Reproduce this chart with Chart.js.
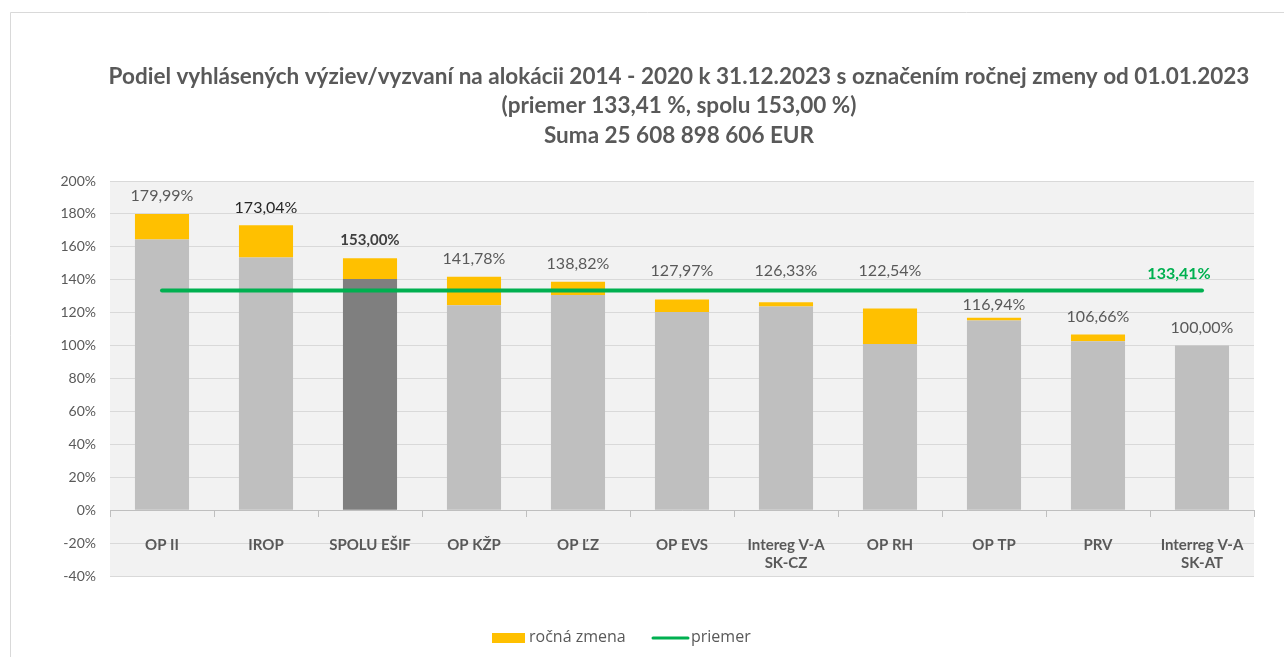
<!DOCTYPE html>
<html>
<head>
<meta charset="utf-8">
<script src="https://cdn.jsdelivr.net/npm/chart.js@4.4.1/dist/chart.umd.min.js"></script>
<style>
  html, body { margin: 0; padding: 0; background: #ffffff; }
  #wrap { width: 1284px; height: 657px; position: relative; }
</style>
</head>
<body>
<div id="wrap"><canvas id="c" width="1284" height="657"></canvas></div>
<script>
// ---- data ----
const categories = ['OP II', 'IROP', 'SPOLU EŠIF', 'OP KŽP', 'OP ĽZ', 'OP EVS', ['Intereg V-A', 'SK-CZ'], 'OP RH', 'OP TP', 'PRV', ['Interreg V-A', 'SK-AT']];
const startValues = [164.5, 153.5, 140.5, 124.5, 130.7, 120.4, 123.8, 101.0, 115.2, 102.6, 100.0];
const totalValues = [179.99, 173.04, 153.00, 141.78, 138.82, 127.97, 126.33, 122.54, 116.94, 106.66, 100.00];
const averageValue = 133.41;
const yTicks = { min: -40, max: 200, step: 20 };
const titleLines = [
  'Podiel vyhlásených výziev/vyzvaní na alokácii 2014 - 2020 k 31.12.2023 s označením ročnej zmeny od 01.01.2023',
  '(priemer 133,41 %, spolu 153,00 %)',
  'Suma 25 608 898 606 EUR'
];
const legendNames = ['ročná zmena', 'priemer'];

// derived
const changeValues = totalValues.map((t, i) => +(t - startValues[i]).toFixed(2));
const averageSeries = categories.map(() => averageValue);
const totalIndex = categories.indexOf('SPOLU EŠIF');

const FONT = 'Lato, "Open Sans", sans-serif';
const fmt = v => v.toFixed(2).replace('.', ',') + '%';

const frame = {
  id: 'frame',
  beforeDraw(chart) {
    const { ctx, chartArea: a } = chart;
    ctx.save();
    ctx.fillStyle = '#ffffff';
    ctx.fillRect(0, 0, chart.width, chart.height);
    ctx.strokeStyle = '#d9d9d9';
    ctx.lineWidth = 1;
    ctx.beginPath();
    ctx.moveTo(10.5, chart.height + 2);
    ctx.lineTo(10.5, 12.5);
    ctx.lineTo(chart.width + 2, 12.5);
    ctx.stroke();
    ctx.fillStyle = '#f2f2f2';
    ctx.fillRect(a.left, a.top, a.right - a.left, a.bottom - a.top);
    // title
    ctx.fillStyle = '#595959';
    ctx.textAlign = 'center';
    ctx.textBaseline = 'middle';
    ctx.font = 'bold 22.5px ' + FONT;
    const cx = (a.left + a.right) / 2 - 3;
    ctx.fillText(titleLines[0], cx, 77);
    ctx.fillText(titleLines[1], cx, 106);
    ctx.fillText(titleLines[2], cx, 136);
    ctx.restore();
  },
  afterDraw(chart) {
    const { ctx } = chart;
    ctx.save();
    // legend
    const y = 638;
    ctx.fillStyle = '#ffc000';
    ctx.fillRect(492, y - 5, 33, 10);
    ctx.font = '16px "Open Sans", ' + FONT;
    ctx.fillStyle = '#595959';
    ctx.textAlign = 'left';
    ctx.textBaseline = 'middle';
    ctx.fillText(legendNames[0], 529, y - 1);
    ctx.strokeStyle = '#00b050';
    ctx.lineWidth = 3;
    ctx.lineCap = 'round';
    ctx.beginPath();
    ctx.moveTo(653, y);
    ctx.lineTo(688, y);
    ctx.stroke();
    ctx.fillText(legendNames[1], 691, y - 1);
    ctx.restore();
  }
};

const valueLabels = {
  id: 'valueLabels',
  afterDatasetsDraw(chart) {
    const { ctx, scales } = chart;
    const meta = chart.getDatasetMeta(1);
    const lineY = scales.y.getPixelForValue(averageValue);
    ctx.save();
    ctx.textAlign = 'center';
    ctx.textBaseline = 'middle';
    meta.data.forEach((bar, i) => {
      const top = bar.y;
      let ly = top - 18;
      if (Math.abs(ly - lineY) < 14) {
        if (top - 10 >= lineY + 14) ly = lineY + 14;
        else ly = lineY - 20;
      }
      if (i === totalIndex) {
        ctx.font = 'bold 15px ' + FONT;
        ctx.fillStyle = '#404040';
      } else {
        ctx.font = '16px ' + FONT;
        ctx.fillStyle = i === 1 ? '#262626' : '#595959';
      }
      ctx.fillText(fmt(totalValues[i]), bar.x, ly);
    });
    // average label
    const lm = chart.getDatasetMeta(2);
    const last = lm.data[lm.data.length - 1];
    ctx.font = 'bold 16px ' + FONT;
    ctx.fillStyle = '#00b050';
    ctx.fillText(fmt(averageValue), last.x - 23, lineY - 17);
    ctx.restore();
  }
};

new Chart(document.getElementById('c'), {
  type: 'bar',
  data: {
    labels: categories,
    datasets: [
      {
        label: 'stav',
        data: startValues,
        backgroundColor: categories.map((c, i) => i === totalIndex ? '#7f7f7f' : '#bfbfbf'),
        stack: 's',
        order: 1,
        categoryPercentage: 1,
        barPercentage: 0.52
      },
      {
        label: legendNames[0],
        data: changeValues,
        backgroundColor: '#ffc000',
        stack: 's',
        order: 2,
        categoryPercentage: 1,
        barPercentage: 0.52
      },
      {
        type: 'line',
        label: legendNames[1],
        data: averageSeries,
        borderColor: '#00b050',
        borderWidth: 4,
        borderCapStyle: 'round',
        pointRadius: 0,
        fill: false,
        order: 0
      }
    ]
  },
  options: {
    responsive: false,
    animation: false,
    devicePixelRatio: 1,
    layout: { padding: { left: 0, right: 30, top: 181, bottom: 81 } },
    plugins: {
      legend: { display: false },
      title: { display: false },
      tooltip: { enabled: false }
    },
    scales: {
      x: {
        type: 'category',
        stacked: true,
        offset: true,
        position: { y: 0 },
        grid: { display: true, drawOnChartArea: false, drawTicks: true, tickLength: 6, color: '#bfbfbf', offset: true },
        border: { display: true, color: '#bfbfbf', width: 1 },
        ticks: {
          color: '#595959',
          font: { family: FONT, size: 15, weight: 'bold' },
          padding: 20,
          maxRotation: 0,
          autoSkip: false
        }
      },
      y: {
        stacked: true,
        min: yTicks.min,
        max: yTicks.max,
        afterFit(scale) { scale.width = 110; },
        grid: { color: '#d9d9d9', drawTicks: false, lineWidth: 1 },
        border: { display: false },
        ticks: {
          stepSize: yTicks.step,
          color: '#595959',
          font: { family: FONT, size: 14 },
          padding: 14,
          callback: v => v + '%'
        }
      }
    }
  },
  plugins: [frame, valueLabels]
});
</script>
</body>
</html>
